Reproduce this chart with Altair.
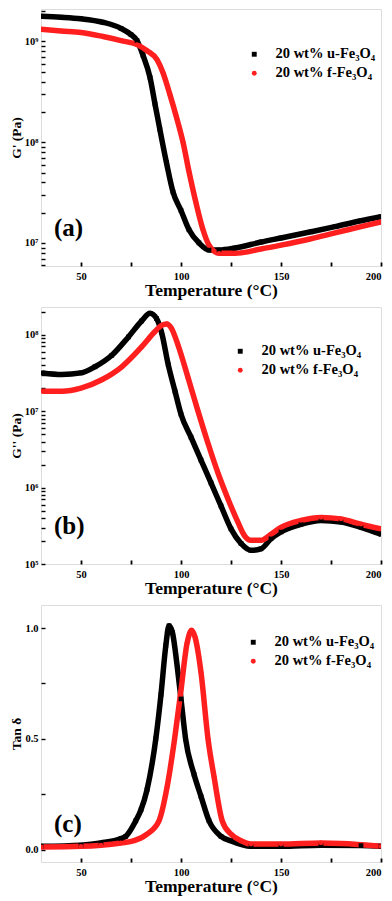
import altair as alt
import pandas as pd

U_LABEL = "20 wt% u-Fe₃O₄"
F_LABEL = "20 wt% f-Fe₃O₄"

# ---- panel (a): G' ----
a_u_T = [30, 40, 50, 61, 70, 75, 78, 81, 84.5, 87, 89.4, 92.7, 96, 100, 104, 109, 114, 119, 127, 140, 150, 165, 177, 190, 200]
a_u_G = [1.78e9, 1.74e9, 1.68e9, 1.55e9, 1.35e9, 1.17e9, 1.02e9, 7.3e8, 4.4e8, 2.4e8, 1.35e8, 6.3e7, 3.2e7, 2.1e7,
         1.35e7, 1.0e7, 8.5e6, 8.5e6, 8.9e6, 1.02e7, 1.12e7, 1.29e7, 1.45e7, 1.66e7, 1.82e7]
a_f_T = [30, 40, 50, 61, 70, 78, 83, 88, 91, 94.4, 97.7, 101, 104, 107.6, 111, 114, 119, 127, 140, 150, 165, 177, 190, 200]
a_f_G = [1.32e9, 1.27e9, 1.23e9, 1.12e9, 1.02e9, 9.3e8, 8.1e8, 6.6e8, 4.9e8, 3.0e8, 1.78e8, 1.0e8, 5.1e7, 2.45e7,
         1.35e7, 9.5e6, 7.9e6, 7.9e6, 8.7e6, 9.5e6, 1.1e7, 1.26e7, 1.45e7, 1.62e7]

# ---- panel (b): G'' ----
b_u_T = [30.6, 40.5, 50, 57, 65.4, 73.7, 80.3, 84.5, 87.8, 90.3, 93.6, 97, 100, 105, 110, 115, 120, 125, 130, 135,
         140, 145, 150, 160, 170, 180, 190, 200]
b_u_G = [3.16e7, 3.02e7, 3.16e7, 3.8e7, 5.37e7, 9.33e7, 1.51e8, 1.9e8, 1.62e8, 1.07e8, 4.07e7, 1.82e7, 9.1e6, 4.57e6,
         2.29e6, 1.15e6, 5.75e5, 2.88e5, 1.86e5, 1.51e5, 1.58e5, 2.14e5, 2.63e5, 3.31e5, 3.72e5, 3.55e5, 3.02e5, 2.45e5]
b_f_T = [30.6, 40.5, 50, 60.4, 70.4, 80.3, 87, 90.3, 92.8, 95.3, 98.6, 103.6, 108.5, 113.5, 118.5, 123.5, 128.4,
         131.8, 135, 140, 145, 150, 160, 170, 180, 190, 200]
b_f_G = [1.82e7, 1.82e7, 2.0e7, 2.57e7, 3.8e7, 6.9e7, 1.1e8, 1.32e8, 1.38e8, 1.2e8, 7.2e7, 2.7e7, 1.0e7, 3.8e6,
         1.55e6, 7.1e5, 3.55e5, 2.34e5, 2.04e5, 2.04e5, 2.45e5, 3.02e5, 3.72e5, 4.07e5, 3.89e5, 3.31e5, 2.88e5]

# ---- panel (c): tan delta ----
c_u_T = [30, 50, 60, 70, 72.4, 77.4, 80, 83, 87.4, 90, 92.4, 94, 95.7, 98.2, 100, 102.3, 106.5, 110, 114, 120, 124.7,
         135, 150, 170, 190, 200]
c_u_D = [0.015, 0.02, 0.03, 0.05, 0.06, 0.13, 0.18, 0.27, 0.5, 0.70, 0.92, 1.01, 0.98, 0.82, 0.68, 0.5, 0.34, 0.24,
         0.13, 0.06, 0.04, 0.015, 0.015, 0.02, 0.018, 0.015]
c_f_T = [30, 50, 60, 70, 76.6, 83, 89, 93, 96.8, 100, 103, 105.3, 107, 110, 113.5, 116.5, 120.6, 125, 130, 135, 150,
         170, 180, 200]
c_f_D = [0.012, 0.015, 0.02, 0.03, 0.04, 0.07, 0.13, 0.28, 0.5, 0.72, 0.93, 0.99, 0.96, 0.80, 0.50, 0.33, 0.13, 0.07,
         0.04, 0.025, 0.025, 0.03, 0.028, 0.015]

SERIES = [U_LABEL, F_LABEL]
COLORS = ["#000000", "#ff1f1f"]
SHAPES = ["square", "circle"]

FONT = "Liberation Serif"
W, H = 340, 257


def make_df(uT, uV, fT, fV):
    return pd.DataFrame({
        "T": uT + fT,
        "v": uV + fV,
        "series": [U_LABEL] * len(uT) + [F_LABEL] * len(fT),
    })


def sup(n):
    return "10" + "⁰¹²³⁴⁵⁶⁷⁸⁹"[n]


xaxis = alt.Axis(
    values=[50, 75, 100, 125, 150, 175, 200],
    labelExpr="datum.value % 50 == 0 ? datum.label : ''",
    title="Temperature (°C)", titleFontSize=17.5, titleFont=FONT, titleFontWeight="bold",
    labelFontSize=10.5, labelFont=FONT, labelFontWeight="bold", labelFlush=True,
    offset=-4, tickSize=4, tickColor="black", tickWidth=1.8, grid=False, domain=False,
    labelPadding=5, titlePadding=0, labelColor="black", titleColor="black",
)


def panel(df, ytitle, ydomain, ytype, yvals, ylabels, label, lx, ly):
    if ytype == "log":
        yscale = alt.Scale(type="log", domain=ydomain, nice=False)
    else:
        yscale = alt.Scale(domain=ydomain, nice=False, zero=False)
    expr = " : ".join(f"datum.value == {v} ? '{t}'" for v, t in ylabels.items()) + " : ''"
    yaxis = alt.Axis(
        values=yvals, labelExpr=expr, title=ytitle,
        titleFontSize=13.5, titleFont=FONT, titleFontWeight="bold",
        labelFontSize=10.5, labelFont=FONT, labelFontWeight="bold",
        offset=-4, tickSize=4, tickColor="black", tickWidth=1.4, grid=False, domain=False,
        labelPadding=3, titlePadding=1, labelColor="black", titleColor="black",
    )
    x = alt.X("T:Q", scale=alt.Scale(domain=[30, 200], nice=False), axis=xaxis)
    y = alt.Y("v:Q", scale=yscale, axis=yaxis)
    cscale = alt.Scale(domain=SERIES, range=COLORS)
    sscale = alt.Scale(domain=SERIES, range=SHAPES)
    leg = alt.Legend(
        title=None, orient="none", legendX=lx, legendY=ly,
        labelFont=FONT, labelFontSize=14.5, labelFontWeight="bold", labelColor="black",
        symbolSize=24, rowPadding=4, labelOffset=14, symbolStrokeWidth=0,
    )
    base = alt.Chart(df)
    lines = []
    for s, c in zip(SERIES, COLORS):
        lines.append(
            base.transform_filter(alt.datum.series == s)
            .mark_line(strokeWidth=5.5, interpolate="monotone", clip=True, color=c)
            .encode(x=x, y=y)
        )
    pts = base.mark_point(filled=True, size=22, opacity=1, clip=True).encode(
        x=x, y=y,
        color=alt.Color("series:N", scale=cscale, legend=leg),
        shape=alt.Shape("series:N", scale=sscale, legend=leg),
    )
    txt = alt.Chart(pd.DataFrame({"t": [label]})).mark_text(
        font=FONT, fontSize=25, fontWeight="bold", align="left", baseline="middle", color="black"
    ).encode(text="t:N", x=alt.value(13), y=alt.value(H - 38))
    return alt.layer(*lines, pts, txt).properties(width=W, height=H)


pa = panel(
    make_df(a_u_T, a_u_G, a_f_T, a_f_G), "G' (Pa)", [5.9e6, 2.1e9], "log",
    [6e6, 7e6, 8e6, 9e6] + [k * 1e7 for k in range(1, 10)] + [k * 1e8 for k in range(1, 10)] + [1e9, 2e9],
    {1e7: sup(7), 1e8: sup(8), 1e9: sup(9)}, "(a)", 206, 38,
)
pb = panel(
    make_df(b_u_T, b_u_G, b_f_T, b_f_G), "G'' (Pa)", [1e5, 2.3e8], "log",
    [k * 1e5 for k in range(1, 10)] + [k * 1e6 for k in range(1, 10)] + [k * 1e7 for k in range(1, 10)] + [1e8, 2e8],
    {1e5: sup(5), 1e6: sup(6), 1e7: sup(7), 1e8: sup(8)}, "(b)", 192, 37,
)
pc = panel(
    make_df(c_u_T, c_u_D, c_f_T, c_f_D), "Tan δ", [-0.056, 1.104], "linear",
    [0, 0.25, 0.5, 0.75, 1.0],
    {0: "0.0", 0.5: "0.5", 1.0: "1.0"}, "(c)", 205, 30,
)

chart = (
    alt.vconcat(pa, pb, pc, spacing=6)
    .resolve_scale(color="independent", shape="independent")
    .resolve_legend(color="independent", shape="independent")
    .configure_view(stroke="black", strokeWidth=2.5)
    .configure(padding=0, background="white")
)

chart.save("out.html", embed_options={"renderer": "svg", "actions": False})
